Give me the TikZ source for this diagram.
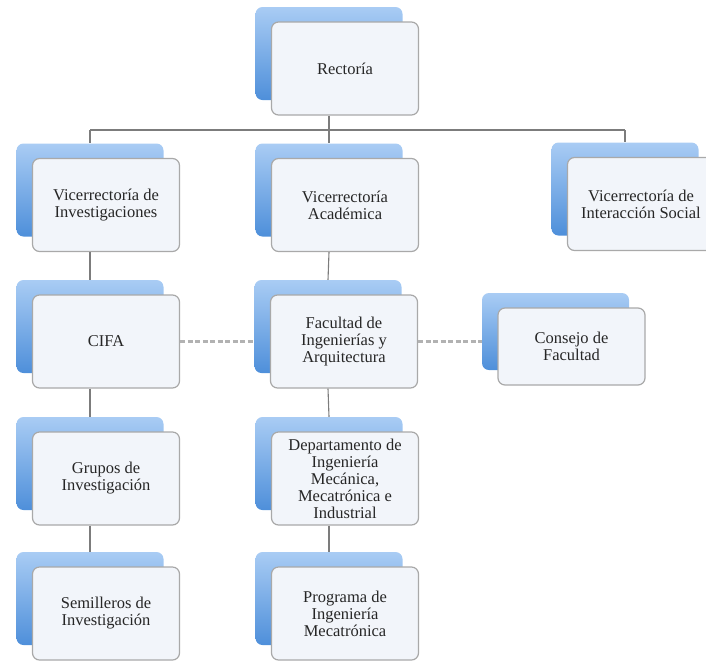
\documentclass[tikz,border=0pt]{standalone}
\usepackage{fontspec}
\setmainfont{Liberation Serif}
\definecolor{boxblue}{HTML}{A9CCF4}
\definecolor{boxdeep}{HTML}{4E8FDA}
\definecolor{boxfill}{HTML}{F2F5FA}
\definecolor{boxline}{HTML}{A9A9A9}
\definecolor{linkgray}{HTML}{7C7C7C}
\tikzset{
  backbox/.style={rounded corners=7pt,minimum width=147pt,minimum height=93pt,inner sep=0pt,
    top color=boxblue,bottom color=boxdeep},
  unit/.style={draw=boxline,line width=1.2pt,rounded corners=7pt,fill=boxfill,
    minimum width=147pt,minimum height=93pt,inner sep=1pt,align=center,
    text=black!85,font=\fontsize{16.5}{17}\selectfont},
  link/.style={draw=linkgray,line width=1.1pt},
  dashlink/.style={draw=gray!60,line width=2.6pt,dash pattern=on 5pt off 2.5pt},
}
% #1 extra options, #2 name, #3 x, #4 y, #5 text
\newcommand{\orgbox}[5][]{%
  \node[backbox,#1] (#2b) at (#3-16,#4-15) {};
  \node[unit,#1] (#2) at (#3,#4) {#5};
}
\begin{document}
\begin{tikzpicture}[x=1pt,y=-1pt]
\useasboundingbox (0,0) rectangle (706,662);
\clip (0,0) rectangle (706,662);
\orgbox{rect}{345}{68.5}{Rectoría}
\orgbox{vinv}{106}{205}{Vicerrectoría de\\Investigaciones}
\orgbox{vaca}{345}{205}{Vicerrectoría\\Académica}
\orgbox{vint}{641}{204}{Vicerrectoría de\\Interacción Social}
\orgbox{cifa}{106}{341.5}{CIFA}
\orgbox{fac}{344}{341.5}{Facultad de\\Ingenierías y\\Arquitectura}
\orgbox[minimum height=77pt]{cons}{571.5}{346.5}{Consejo de\\Facultad}
\orgbox{grup}{106}{478.5}{Grupos de\\Investigación}
\orgbox{depto}{345}{478.5}{Departamento de\\Ingeniería\\Mecánica,\\Mecatrónica e\\Industrial}
\orgbox{semi}{106}{613.5}{Semilleros de\\Investigación}
\orgbox{prog}{345}{613.5}{Programa de\\Ingeniería\\Mecatrónica}
\coordinate (bar) at (0,130);
\draw[link] (rectb |- rect.south) -- (rectb |- bar);
\draw[link] (vinvb |- bar) -- (vintb |- bar);
\foreach \n in {vinv,vaca,vint}
  \draw[link] (\n b |- bar) -- (\n b.north);
\draw[link] (vinvb |- vinv.south) -- (cifab.north);
\draw[link] (cifab |- cifa.south) -- (grupb.north);
\draw[link] (grupb |- grup.south) -- (semib.north);
\draw[link] (vacab |- vaca.south) -- (facb.north);
\draw[link] (facb |- fac.south) -- (deptob.north);
\draw[link] (deptob |- depto.south) -- (progb.north);
\draw[dashlink] (cifa.east) -- (facb.west |- cifa.east);
\draw[dashlink] (fac.east) -- (consb.west |- fac.east);
\end{tikzpicture}
\end{document}
